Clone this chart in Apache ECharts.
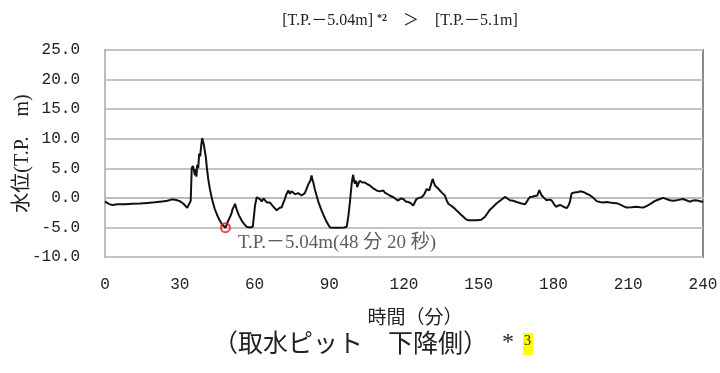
<!DOCTYPE html>
<html>
<head>
<meta charset="utf-8">
<script src="https://cdn.jsdelivr.net/npm/echarts@6/dist/echarts.min.js"></script>
<style>
  html, body { margin: 0; padding: 0; background: #fff; }
  #chart { width: 720px; height: 373px; }
</style>
</head>
<body>
<div id="chart"></div>
<script>
// Water level at the intake pit (falling side), T.P. m, over 240 minutes
const timeMin = [
  0, 1, 2, 3, 5, 8, 11, 14, 17, 20, 23, 25, 27, 28.5, 30, 31.5, 33, 33.8, 34.4,
  34.8, 35.3, 35.7, 36.1, 36.4, 36.7, 37.0, 37.4, 37.8, 38.2, 38.6, 39.0, 39.3, 39.7,
  40.1, 40.5, 40.9, 41.5, 42.1, 43, 44, 45, 46, 47, 48.33, 48.8, 49.2, 49.6, 50.2,
  50.8, 51.2, 51.7, 52.2, 52.8, 53.8, 54.8, 55.8, 56.9, 58, 59.3, 59.8, 60.2, 60.9,
  61.5, 62.2, 62.9, 63.6, 64.2, 65, 65.5, 66.2, 66.9, 67.8, 68.9, 70, 70.9, 71.6,
  72.2, 72.8, 73.6, 74.2, 74.9, 75.6, 76.3, 76.9, 77.5, 78.2, 78.9, 79.6, 80.2, 80.9,
  81.5, 82, 82.5, 82.9, 83.3, 83.6, 84.2, 84.9, 85.8, 86.9, 88, 89, 90.3, 92, 94, 96,
  97, 97.7, 98.3, 99, 99.3, 99.6, 100, 100.3, 100.8, 101.2, 101.8, 102.3, 103.3,
  104.3, 105.3, 106.3, 107.7, 109, 110.3, 111.7, 112.3, 113, 114.3, 115.7, 116.7,
  117.7, 118.7, 119.7, 120.7, 121.7, 122.7, 123.7, 124.4, 125, 126, 127.1, 128.1,
  129.1, 130.1, 130.8, 131.5, 132.0, 132.4, 133.4, 134.4, 135.4, 136.4, 137.1, 137.8,
  138.8, 139.8, 140.8, 141.8, 142.8, 143.8, 144.8, 145.8, 147.5, 149.2, 151, 152.5,
  153.5, 154.5, 155.8, 157.2, 158.8, 160.5, 161.5, 162.5, 163.8, 165.2, 166.8, 168.5,
  169.5, 170.5, 171.5, 172.5, 173.5, 174.3, 175.2, 176.2, 177.2, 178.2, 179.2, 180.1,
  181, 181.8, 182.6, 184, 185.3, 186, 186.6, 187.3, 188.5, 189.9, 191, 191.9, 193.3,
  194.6, 196, 197.3, 198.6, 200, 201.3, 202.6, 204, 205.3, 206.6, 208, 209.3, 211.3,
  213.4, 214.7, 216, 217.7, 219.4, 220.4, 221.4, 222.7, 224, 225.3, 226.7, 228, 229.4,
  230.7, 232, 233.3, 234.7, 235.7, 236.8, 238.2, 239.5, 240
];
const waterLevel = [
  -0.6, -0.9, -1.1, -1.2, -1.1, -1.1, -1.0, -0.95, -0.85, -0.75, -0.6, -0.5, -0.25, -0.35, -0.55, -1.0, -1.7, -1.5, -0.5,
  5.0, 5.4, 4.6, 3.8, 4.8, 3.6, 5.6, 5.0, 7.5, 7.0, 8.8, 10.1, 9.6, 8.9,
  8.6, 6.8, 5.0, 3.0, 1.5, -0.3, -1.8, -2.9, -3.8, -4.5, -5.04, -4.6, -4.1, -4.3, -3.2,
  -2.6, -1.9, -1.5, -1.0, -1.9, -3.0, -3.8, -4.4, -4.9, -5.0, -4.9, -3.0, -1.3, 0.1,
  0.3, -0.2, -0.6, -0.1, -0.2, -0.8, -1.0, -0.8, -1.0, -1.6, -2.1, -1.7, -1.6, -0.8,
  -0.2, 0.6, 1.25, 0.7, 1.1, 0.9, 0.6, 0.4, 0.8, 0.7, 0.4, 0.2, 0.8, 1.5,
  2.2, 2.6, 3.0, 3.8, 3.0, 2.6, 1.5, 0.4, -0.9, -2.1, -3.2, -4.1, -5.0, -5.05, -5.05, -5.0,
  -4.9, -3.0, -0.7, 2.4, 3.3, 3.9, 2.8, 2.4, 2.9, 1.8, 2.5, 2.9, 2.6,
  2.6, 2.3, 2.1, 1.6, 1.25, 1.1, 1.25, 0.9, 0.7, 0.4, 0.1, -0.2,
  -0.45, -0.1, -0.2, -0.6, -0.7, -0.9, -1.3, -0.7, -0.2, 0.0, 0.1, 0.6,
  1.5, 1.25, 2.2, 3.2, 2.6, 2.1, 1.7, 1.25, 0.8, 0.4, -0.4, -1.0,
  -1.3, -1.6, -2.0, -2.4, -2.8, -3.2, -3.6, -3.8, -3.8, -3.8, -3.7, -3.2,
  -2.6, -2.0, -1.5, -0.9, -0.4, 0.15, -0.1, -0.4, -0.5, -0.7, -0.9, -1.1,
  -0.5, 0.15, 0.2, 0.3, 0.4, 1.3, 0.45, 0.0, -0.4, -0.3, -0.4, -1.0,
  -1.5, -1.3, -1.2, -1.5, -1.75, -1.3, -0.65, 0.8, 0.9, 1.0, 1.1, 1.0, 0.7,
  0.45, 0.0, -0.55, -0.7, -0.8, -0.7, -0.8, -0.85, -0.9, -1.1, -1.4, -1.65, -1.6,
  -1.5, -1.6, -1.65, -1.3, -0.9, -0.6, -0.4, -0.2, 0.0, -0.2, -0.4, -0.5, -0.4,
  -0.3, -0.2, -0.4, -0.65, -0.5, -0.4, -0.5, -0.65, -0.6
];

// Lowest level point
const minTime = 48.33;
const minLevel = -5.04;
const minLabel = 'T.P.－5.04m(48 分 20 秒)';

const xTicks = { min: 0, max: 240, interval: 30 };
const yTicks = { min: -10, max: 25, interval: 5 };

const titleLeft = '[T.P.－5.04m] ';
const titleNote = '*2';
const titleRight = '　＞　[T.P.－5.1m]';
const xName = '時間（分）';
const yName = '水位(T.P.　m)';
const caption = '（取水ピット　下降側）';
const captionMark = '*';
const captionNote = '3';

const seriesData = timeMin.map((t, i) => [t, waterLevel[i]]);

const chart = echarts.init(document.getElementById('chart'), null, { renderer: 'canvas' });
const serifJP = '"Liberation Serif", "Noto Sans CJK JP", serif';
const tickFont = '"Liberation Mono", "DejaVu Sans Mono", monospace';

chart.setOption({
  backgroundColor: '#ffffff',
  animation: false,
  title: {
    text: '{a|' + titleLeft + '}{s|' + titleNote + '}{a|' + titleRight + '}',
    left: 395,
    textAlign: 'center',
    top: 8,
    textStyle: {
      rich: {
        a: { fontFamily: serifJP, fontSize: 16, color: '#222', fontWeight: 'normal' },
        s: { fontFamily: serifJP, fontSize: 10, color: '#222', verticalAlign: 'top', padding: [0, 0, 6, 0] }
      }
    }
  },
  grid: {
    left: 105, right: 17, top: 50, bottom: 116,
    containLabel: false,
    outerBoundsMode: 'none',
    show: true,
    borderColor: '#8a8a8a',
    borderWidth: 2,
    backgroundColor: 'transparent'
  },
  xAxis: {
    type: 'value',
    min: xTicks.min, max: xTicks.max, interval: xTicks.interval,
    name: xName,
    nameLocation: 'middle',
    nameGap: 53,
    nameMoveOverlap: false,
    nameTextStyle: { fontFamily: serifJP, fontSize: 19, color: '#222', padding: [0, 0, 0, 22] },
    axisLine: { show: true, lineStyle: { color: '#bcbcbc', width: 2 } },
    axisTick: { show: false },
    splitLine: { show: false },
    axisLabel: { fontFamily: tickFont, fontSize: 16, color: '#222', margin: 20 }
  },
  yAxis: {
    type: 'value',
    min: yTicks.min, max: yTicks.max, interval: yTicks.interval,
    name: yName,
    nameLocation: 'middle',
    nameGap: 72,
    nameMoveOverlap: false,
    nameTextStyle: { fontFamily: serifJP, fontSize: 20, color: '#222' },
    axisLine: { show: true, lineStyle: { color: '#bcbcbc', width: 2 } },
    axisTick: { show: false },
    splitLine: { show: true, lineStyle: { color: '#c4c4c4', width: 2 } },
    axisLabel: {
      fontFamily: tickFont, fontSize: 16, color: '#222', margin: 25,
      formatter: v => v.toFixed(1)
    }
  },
  series: [
    {
      type: 'line',
      data: seriesData,
      showSymbol: false,
      lineStyle: { color: '#111', width: 2 },
      z: 3
    },
    {
      type: 'scatter',
      data: [[minTime, minLevel]],
      symbol: 'circle',
      symbolSize: 9,
      itemStyle: { color: 'rgba(255,255,255,0)', borderColor: '#e8141c', borderWidth: 2 },
      label: {
        show: true,
        formatter: minLabel,
        position: 'right',
        offset: [2, 15],
        fontFamily: serifJP,
        fontSize: 19,
        color: '#333'
      },
      z: 4
    }
  ],
  graphic: [
    {
      type: 'text',
      left: 213,
      top: 330,
      style: { text: caption, font: '25px "Noto Sans CJK JP"', fill: '#222' }
    },
    {
      type: 'text',
      left: 502,
      top: 331,
      style: { text: captionMark, font: '24px "Liberation Serif"', fill: '#222' }
    },
    {
      type: 'rect',
      shape: { x: 523, y: 333, width: 10, height: 22 },
      style: { fill: '#ffff00' }
    },
    {
      type: 'text',
      left: 524,
      top: 334,
      style: { text: captionNote, font: '14px "Liberation Serif"', fill: '#222' }
    }
  ]
});
</script>
</body>
</html>
